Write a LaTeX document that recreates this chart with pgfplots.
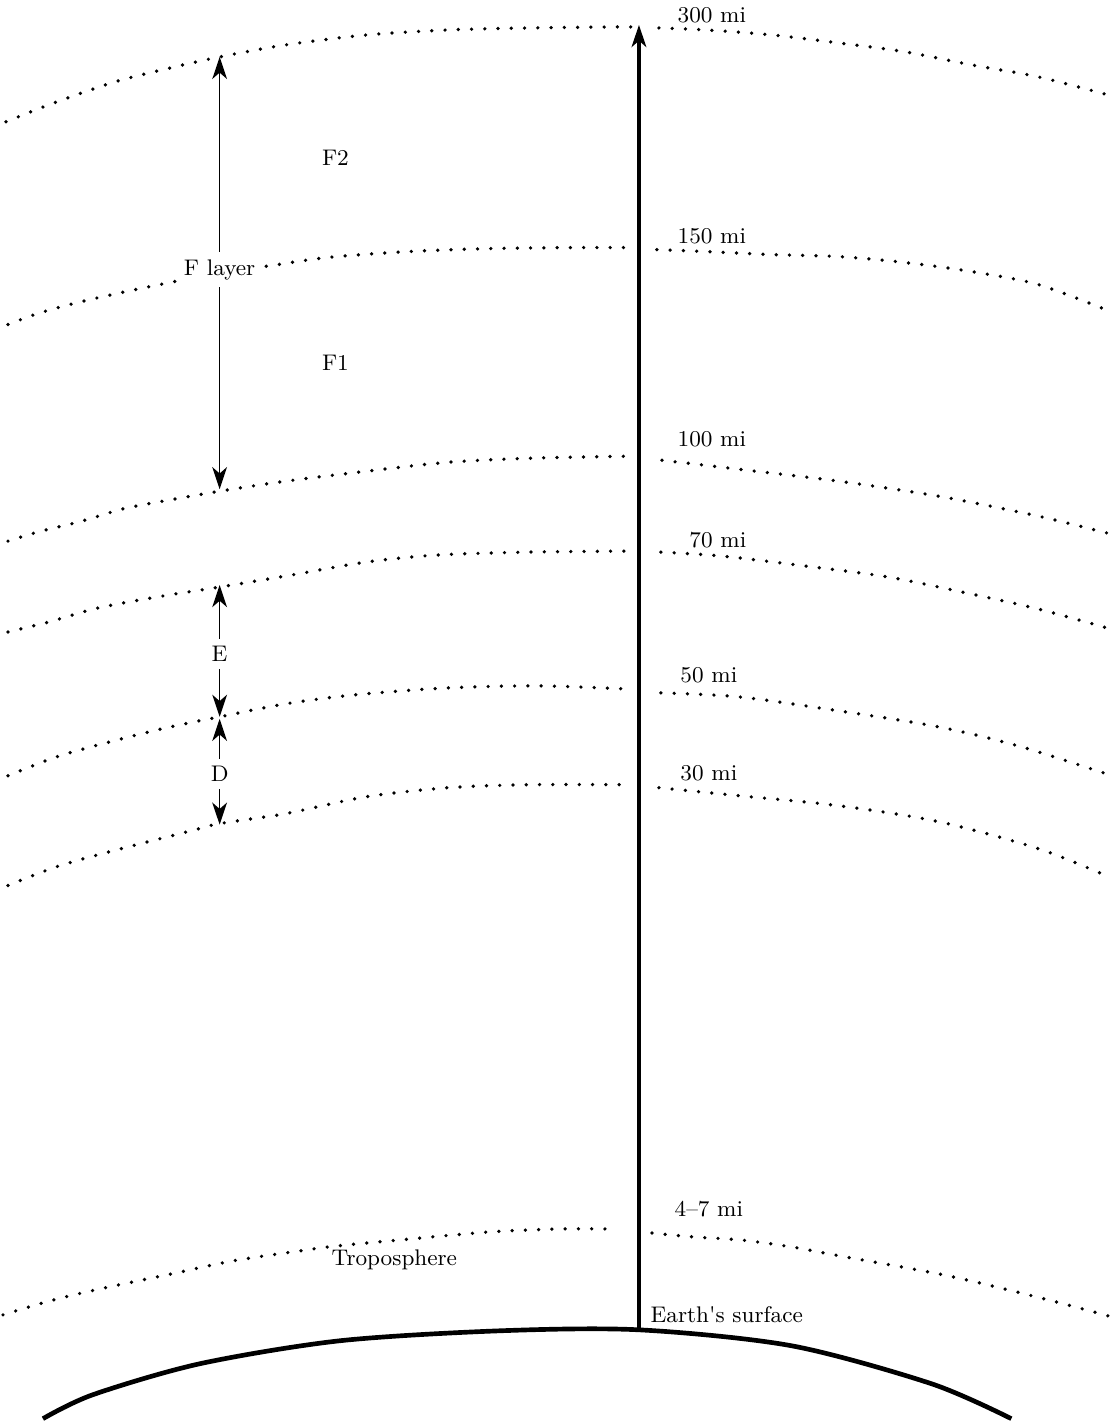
\documentclass[border=0pt]{standalone}
\usepackage{fontspec}
\usepackage{pgfplots}
\pgfplotsset{compat=1.18}
\usetikzlibrary{arrows.meta}
\tikzset{
  dotline/.style={black, line width=1.5pt, line cap=round, dash pattern=on 0pt off 5.4pt, smooth},
  lab/.style={font=\fontsize{9.2}{11}\selectfont, inner sep=1.5pt},
  >={Stealth[length=9pt,width=6pt,inset=2.6pt]}
}
\begin{document}
\begin{tikzpicture}
\begin{axis}[scale only axis, width=16cm, height=20.3cm,
  xmin=0, xmax=1120, ymin=0, ymax=1421, y dir=reverse,
  hide axis, clip=false]
\path (rel axis cs:0,0) rectangle (rel axis cs:1,1);
% 300 mi
\addplot[dotline] coordinates {(6,122) (41,108) (82,93) (122,80) (175,67) (220,57) (286,45) (367,35) (449,30) (530,28) (612,27) (632,27)};
\addplot[dotline] coordinates {(660,28) (707,30) (773,35) (840,43) (907,52) (973,65) (1040,77) (1117,97)};
% 150 mi
\addplot[dotline] coordinates {(8,325) (41,313) (82,302) (122,293) (165,284) (220,273) (265,267) (327,258) (408,252) (490,249) (571,248) (628,248)};
\addplot[dotline] coordinates {(658,250) (707,252) (773,255) (840,257) (907,263) (973,272) (1040,285) (1112,312)};
% 100 mi
\addplot[dotline] coordinates {(8,542) (41,532) (82,522) (122,510) (163,502) (220,492) (286,482) (367,472) (449,463) (530,459) (628,457)};
\addplot[dotline] coordinates {(663,461) (740,470) (840,482) (940,497) (1040,517) (1117,536)};
% 70 mi
\addplot[dotline] coordinates {(8,633) (49,623) (98,609) (163,597) (220,588) (286,577) (367,563) (437,556) (530,553) (630,552)};
\addplot[dotline] coordinates {(662,553) (723,557) (807,567) (890,578) (973,595) (1040,610) (1116,631)};
% 50 mi
\addplot[dotline] coordinates {(8,777) (57,758) (114,742) (171,728) (220,718) (286,705) (355,696) (449,689) (539,687) (626,690)};
\addplot[dotline] coordinates {(662,694) (740,698) (840,712) (940,728) (1023,748) (1117,778)};
% 30 mi
\addplot[dotline] coordinates {(8,887) (57,868) (114,852) (192,832) (220,825) (286,815) (367,798) (449,789) (530,786) (632,786)};
\addplot[dotline] coordinates {(660,789) (740,797) (840,807) (940,823) (1040,850) (1110,878)};
% troposphere
\addplot[dotline] coordinates {(3,1317) (50,1303) (100,1291) (167,1277) (233,1263) (300,1253) (337,1248) (400,1242) (490,1234) (560,1231) (612,1231)};
\addplot[dotline] coordinates {(653,1235) (695,1239) (742,1242) (793,1249) (836,1257) (950,1278) (1050,1302) (1117,1320)};
% Earth
\addplot[black, line width=1.9pt, smooth] coordinates {(43,1421) (93,1397) (200,1366) (340,1343) (500,1333) (640,1332) (793,1348) (933,1386) (1013,1421)};
% main arrow
\addplot[black, line width=1.3pt, ->] coordinates {(640,1333) (640,25)};
% layer arrows
\addplot[black, line width=0.6pt, <->] coordinates {(220,57) (220,490)};
\addplot[black, line width=0.6pt, <->] coordinates {(220,586) (220,718)};
\addplot[black, line width=0.6pt, <->] coordinates {(220,720) (220,826)};
% labels
\node[lab] at (axis cs:713,15) {300 mi};
\node[lab] at (axis cs:713,237) {150 mi};
\node[lab] at (axis cs:713,440) {100 mi};
\node[lab] at (axis cs:719,541) {70 mi};
\node[lab] at (axis cs:710,676) {50 mi};
\node[lab] at (axis cs:710,774) {30 mi};
\node[lab] at (axis cs:710,1211) {4--7 mi};
\node[lab] at (axis cs:395,1262) {Troposphere};
\node[lab] at (axis cs:728,1317) {Earth\textquotesingle s surface};
\node[lab] at (axis cs:336,158) {F2};
\node[lab] at (axis cs:336,363) {F1};
\node[lab, fill=white, inner sep=3pt] at (axis cs:220,270) {F layer};
\node[lab, fill=white, inner sep=3pt] at (axis cs:220,655) {E};
\node[lab, fill=white, inner sep=3pt] at (axis cs:220,775) {D};
\end{axis}
\end{tikzpicture}
\end{document}
